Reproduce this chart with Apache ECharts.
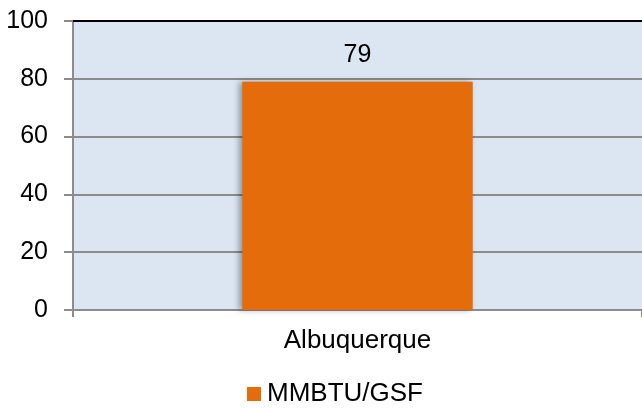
<!DOCTYPE html>
<html>
<head>
<meta charset="utf-8">
<script src="https://cdn.jsdelivr.net/npm/echarts@6/dist/echarts.min.js"></script>
<style>
  html, body { margin: 0; padding: 0; background: #fff; }
  #chart { width: 642px; height: 408px; }
</style>
</head>
<body>
<div id="chart"></div>
<script>
const categories = ['Albuquerque']
const seriesName = 'MMBTU/GSF'
const values = [79]
const yTicks = { min: 0, max: 100, interval: 20 }

const chart = echarts.init(document.getElementById('chart'))
const font = 'Liberation Sans, Arial, sans-serif'

const option = {
  animation: false,
  grid: {
    show: true,
    left: 73,
    right: 0,
    top: 21,
    bottom: 98,
    backgroundColor: '#dce6f2',
    borderWidth: 0
  },
  legend: {
    top: 381,
    left: 247,
    icon: 'rect',
    itemWidth: 14,
    itemHeight: 14,
    itemGap: 6,
    padding: 0,
    textStyle: { fontFamily: font, fontSize: 26, color: '#000', padding: [0, 0, 0, 1] },
    data: [seriesName]
  },
  xAxis: [
    {
      type: 'category',
      data: categories,
      axisLine: { lineStyle: { color: '#8c8c8c', width: 2 } },
      axisTick: { show: true, length: 7, lineStyle: { color: '#8c8c8c', width: 2 } },
      axisLabel: { fontFamily: font, fontSize: 26, color: '#000', margin: 18 }
    },
    {
      // black top border of the plot
      type: 'category',
      position: 'top',
      data: categories,
      axisLine: { lineStyle: { color: '#000', width: 2 } },
      axisTick: { show: false },
      axisLabel: { show: false }
    }
  ],
  yAxis: {
    type: 'value',
    min: yTicks.min,
    max: yTicks.max,
    interval: yTicks.interval,
    axisLine: { show: true, lineStyle: { color: '#8c8c8c', width: 2 } },
    axisTick: { show: true, length: 9, lineStyle: { color: '#8c8c8c', width: 2 } },
    axisLabel: { fontFamily: font, fontSize: 25, color: '#000', margin: 25 },
    splitLine: { lineStyle: { color: '#8c8c8c', width: 2 } }
  },
  series: [
    {
      name: seriesName,
      type: 'bar',
      data: values,
      barWidth: '40.5%',
      itemStyle: {
        color: '#e46c0a',
        shadowColor: 'rgba(0,0,0,0.35)',
        shadowBlur: 6,
        shadowOffsetX: -3,
        shadowOffsetY: 0
      },
      label: {
        show: true,
        position: 'top',
        distance: 14,
        fontFamily: font,
        fontSize: 25,
        color: '#000'
      }
    }
  ]
}

chart.setOption(option)
</script>
</body>
</html>
